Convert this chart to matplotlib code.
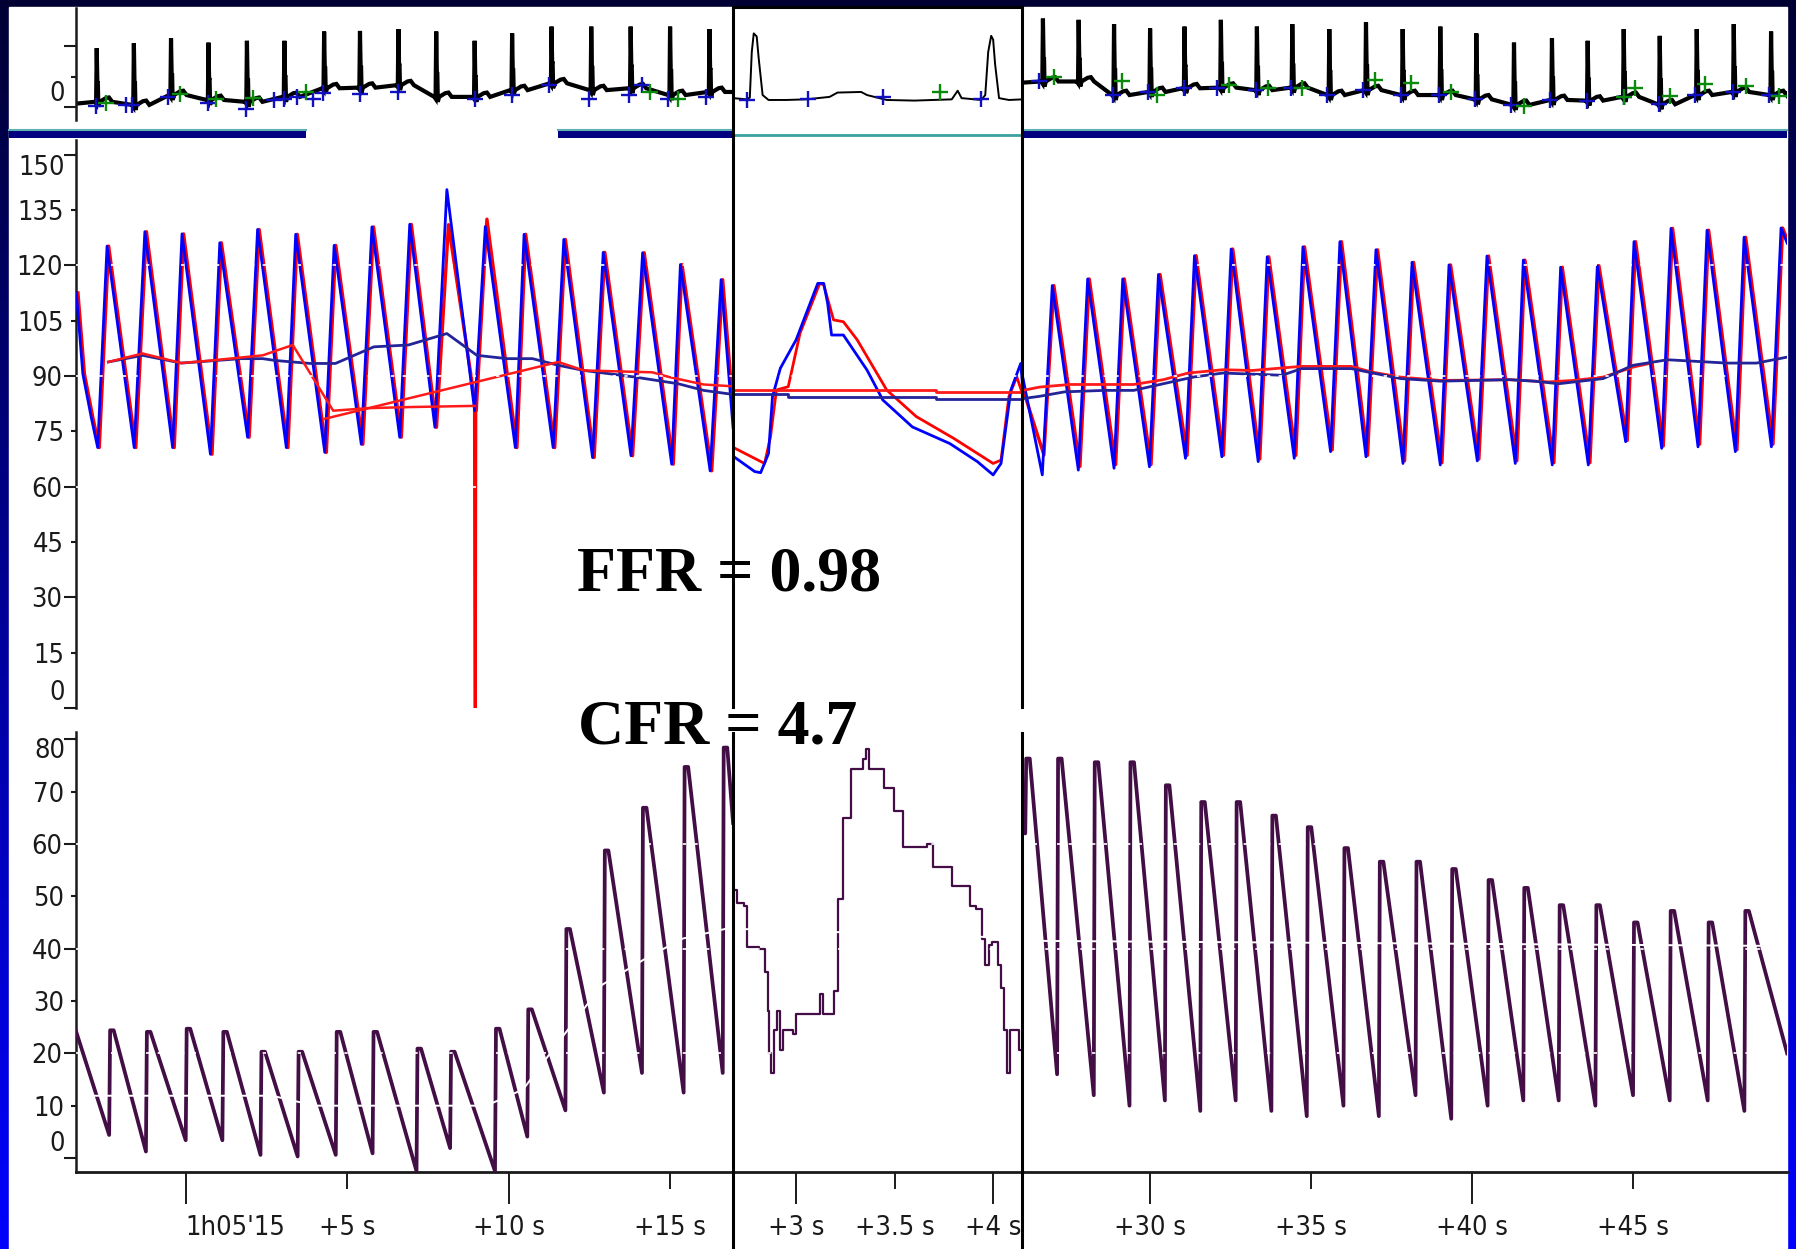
import numpy as np
import matplotlib
matplotlib.use('Agg')
import matplotlib.pyplot as plt
from matplotlib import font_manager
from matplotlib.colors import LinearSegmentedColormap
from matplotlib.lines import Line2D
from matplotlib.patches import Rectangle
from matplotlib.transforms import ScaledTranslation, offset_copy

# ---------------- data (time in s, ECG in a.u., pressure in mmHg, flow in cm/s) ----
# segment 1: baseline, segment 2: zoomed hyperaemia, segment 3: recovery
R1_T = [-2.75, -1.60, -0.45, 0.71, 1.90, 3.06, 4.29, 5.40, 6.59, 7.76, 8.95,
        10.11, 11.33, 12.56, 13.78, 15.00, 16.22]
R1_A = [0.96, 1.04, 1.12, 1.05, 1.08, 1.08, 1.23, 1.24, 1.27, 1.23, 1.08,
        1.20, 1.31, 1.31, 1.31, 1.31, 1.27]
R1_B = [0.09, 0.04, 0.20, 0.12, 0.09, 0.17, 0.31, 0.32, 0.36, 0.17, 0.17,
        0.28, 0.39, 0.28, 0.31, 0.20, 0.25]
R3_T = [26.67, 27.78, 28.88, 30.00, 31.07, 32.20, 33.32, 34.42, 35.57, 36.71, 37.85,
        39.02, 40.14, 41.31, 42.49, 43.60, 44.72, 45.84, 46.99, 48.14, 49.30]
R3_A = [1.44, 1.42, 1.35, 1.28, 1.31, 1.42, 1.31, 1.35, 1.27, 1.38, 1.27,
        1.31, 1.20, 1.05, 1.12, 1.08, 1.27, 1.16, 1.27, 1.35, 1.23]
R3_B = [0.42, 0.42, 0.20, 0.25, 0.31, 0.32, 0.28, 0.32, 0.20, 0.28, 0.20,
        0.20, 0.13, 0.04, 0.12, 0.11, 0.17, 0.05, 0.20, 0.25, 0.20]
# beat shape around each R wave: time offset, fraction of R height, absolute offset
QRS_DT = [-0.06, -0.02, 0.0, 0.02, 0.035, 0.05, 0.09, 0.28, 0.38, 0.48]
QRS_FR = [0, 0, 1, 0.35, 0.35, 0, 0, 0, 0, 0]
QRS_DB = [0, -0.03, 0, 0, 0, -0.08, 0, 0.06, 0.07, 0]

ECG2_T = [2.68, 2.75, 2.765, 2.775, 2.785, 2.80, 2.81, 2.83, 2.86, 2.95, 3.05, 3.17,
          3.21, 3.33, 3.36, 3.46, 3.60, 3.79, 3.82, 3.84, 3.94, 3.96, 3.975, 3.99,
          4.00, 4.01, 4.03, 4.08, 4.15]
ECG2_V = [0.15, 0.13, 0.16, 0.90, 1.20, 1.15, 0.80, 0.20, 0.12, 0.12, 0.13, 0.17,
          0.24, 0.25, 0.20, 0.12, 0.11, 0.13, 0.27, 0.15, 0.12, 0.20, 0.90, 1.16,
          1.10, 0.70, 0.15, 0.12, 0.13]

MB_T = [-2.78, -1.83, -1.66, -0.53, 0.71, 1.87, 3.06, 3.44, 4.24, 5.39, 6.58, 8.95,
        10.11, 11.26, 12.50, 13.72, 14.13, 14.94, 16.12,
        2.75, 3.94,
        26.56, 28.84, 29.94, 31.04, 32.08, 33.30, 34.39, 35.51, 36.63, 37.81, 38.97,
        40.11, 41.23, 42.42, 43.57, 44.72, 45.82, 46.93, 48.12, 49.23]
MB_V = [0.02, 0.04, 0.04, 0.17, 0.07, -0.02, 0.14, 0.17, 0.23, 0.21, 0.25, 0.14,
        0.20, 0.36, 0.14, 0.20, 0.36, 0.13, 0.17,
        0.12, 0.14,
        0.42, 0.20, 0.25, 0.31, 0.32, 0.28, 0.32, 0.20, 0.28, 0.20, 0.20,
        0.13, 0.04, 0.12, 0.11, 0.17, 0.05, 0.20, 0.25, 0.20]
MG_T = [-2.45, -0.18, 0.95, 2.10, 3.73, 14.37, 15.26,
        27.00, 29.14, 30.21, 32.44, 33.65, 34.72, 36.98, 38.11, 39.35, 41.61, 44.72,
        45.07, 46.17, 47.26, 48.53, 49.56]
MG_V = [0.07, 0.21, 0.14, 0.15, 0.25, 0.25, 0.13,
        0.49, 0.42, 0.20, 0.36, 0.32, 0.32, 0.44, 0.39, 0.25, 0.02, 0.17,
        0.31, 0.19, 0.38, 0.35, 0.19]

# pressure, segment 1
P1_FOOT_T = [-2.72, -1.59, -0.40, 0.77, 1.92, 3.12, 4.31, 5.44, 6.63, 7.72, 8.95,
             10.21, 11.38, 12.60, 13.79, 15.05, 16.24]
P1_FOOT_V = [70.6, 70.6, 70.6, 68.8, 73.4, 70.6, 69.3, 71.5, 73.4, 76.1, 80.6,
             70.6, 70.6, 67.9, 68.4, 66.1, 64.3]
P1_PEAK_T = [-2.43, -1.26, -0.11, 1.06, 2.23, 3.41, 4.60, 5.77, 6.94, 8.09, 9.28,
             10.48, 11.71, 12.93, 14.15, 15.32, 16.58]
PA1_PEAK = [125.2, 129.1, 128.5, 126.1, 129.7, 128.4, 125.4, 130.4, 131.1, 140.5, 130.5,
            128.4, 127.0, 123.5, 123.4, 120.2, 116.1]
PD1_PEAK = [125.2, 129.1, 128.5, 126.1, 129.7, 128.4, 125.4, 130.4, 131.1, 131.0, 132.5,
            128.4, 127.0, 123.5, 123.4, 120.2, 116.1]
P1_HEAD_T = [-3.38, -3.18, -2.92]
P1_HEAD_V = [112.5, 90.6, 78.8]
P1_TAIL_T = [16.95]
P1_TAIL_V = [76.0]
PD1_SPIKE_T = [8.94, 8.955, 8.975, 8.99]
PD1_SPIKE_V = [81.9, 0.0, 0.0, 81.0]

MPA1_T = [-2.39, -1.33, -0.13, 1.72, 2.39, 2.78, 3.85, 4.64, 5.83, 6.90, 8.09, 9.02,
          9.95, 10.74, 11.54, 12.33, 13.13, 13.92, 15.25, 16.04, 16.95]
MPA1_V = [93.8, 95.6, 93.5, 94.7, 94.7, 94.2, 93.4, 93.4, 97.9, 98.4, 101.5, 95.6,
          94.7, 94.7, 92.9, 91.5, 90.6, 89.7, 87.9, 86.1, 85.0]
MPD1A_T = [-2.39, -1.33, -0.13, 0.80, 2.39, 3.32, 4.57, 5.70, 7.03, 8.95]
MPD1A_V = [93.8, 96.1, 93.5, 94.2, 95.6, 98.4, 80.6, 81.3, 81.6, 81.9]
MPD1B_T = [4.31, 11.54, 12.33, 14.45, 14.98, 16.04, 16.95]
MPD1B_V = [78.4, 93.8, 91.5, 91.0, 89.7, 87.7, 87.2]

# pressure, segment 2
PA2_T = [2.69, 2.79, 2.82, 2.86, 2.88, 2.92, 3.00, 3.11, 3.14, 3.16, 3.18, 3.24,
         3.36, 3.44, 3.59, 3.78, 3.92, 4.00, 4.04, 4.09, 4.14, 4.15]
PA2_V = [67.9, 64.1, 63.8, 69.0, 84.4, 92.1, 99.8, 115.1, 115.1, 109.7, 101.1, 101.1,
         91.6, 83.5, 76.2, 71.7, 66.8, 63.2, 66.3, 86.2, 93.4, 87.0]
PD2_T = [2.69, 2.84, 2.87, 2.90, 2.96, 3.02, 3.12, 3.14, 3.19, 3.24, 3.31, 3.46,
         3.61, 3.80, 4.00, 4.04, 4.08, 4.12, 4.15]
PD2_V = [70.4, 66.3, 73.5, 86.2, 87.1, 101.6, 115.1, 114.7, 105.2, 104.7, 99.8, 86.2,
         79.0, 73.1, 66.3, 67.2, 84.4, 89.8, 85.0]
MPA2_T = [2.68, 2.96, 2.96, 3.71, 3.71, 4.15]
MPA2_V = [85.1, 85.1, 84.4, 84.4, 83.8, 83.8]
MPD2_T = [2.68, 3.71, 3.71, 4.15]
MPD2_V = [86.2, 86.2, 85.7, 85.7]

# pressure, segment 3
P3_FOOT_T = [26.65, 27.77, 28.88, 29.98, 31.10, 32.23, 33.36, 34.48, 35.61, 36.71, 37.86,
             39.02, 40.17, 41.35, 42.50, 43.62, 44.78, 45.90, 47.03, 48.19, 49.31]
PA3_FOOT = [63.2, 64.5, 65.0, 65.4, 67.7, 68.1, 66.8, 67.7, 69.5, 68.1, 66.3,
            65.9, 67.0, 66.3, 65.9, 65.9, 72.2, 70.4, 70.8, 69.5, 70.8]
PD3_FOOT = [68.6, 65.5, 66.0, 66.0, 68.5, 68.5, 67.5, 68.5, 70.0, 68.5, 67.0,
            66.5, 67.5, 67.0, 66.5, 66.5, 72.5, 71.0, 71.5, 70.0, 71.5]
P3_PEAK_T = [26.96, 28.06, 29.15, 30.26, 31.38, 32.52, 33.64, 34.75, 35.90, 37.02, 38.14,
             39.29, 40.47, 41.60, 42.76, 43.90, 45.04, 46.19, 47.31, 48.46, 49.61]
P3_PEAK_V = [114.5, 116.3, 116.3, 117.5, 122.6, 124.4, 122.3, 125.0, 126.4, 124.2, 120.8,
             120.1, 122.5, 121.4, 119.5, 119.9, 126.4, 130.0, 129.5, 127.6, 130.1]
MPA3_T = [25.81, 26.57, 27.34, 28.57, 29.49, 30.41, 31.34, 32.26, 33.18, 34.10, 34.71,
          36.25, 36.87, 37.79, 39.02, 41.17, 41.93, 42.70, 44.08, 45.01, 46.08, 46.70,
          47.92, 48.85, 49.79]
MPA3_V = [83.6, 84.5, 85.7, 86.1, 86.1, 87.9, 89.7, 90.8, 90.5, 90.2, 92.0,
          92.0, 90.9, 89.3, 88.6, 89.0, 88.6, 87.9, 89.3, 92.9, 94.4, 94.1,
          93.5, 93.5, 95.1]
MPD3_T = [25.81, 26.57, 27.50, 29.49, 30.41, 31.18, 32.26, 33.18, 34.41, 34.71, 36.25,
          36.87, 37.79, 39.02, 41.17, 42.39, 43.16, 44.08, 45.01, 45.47]
MPD3_V = [85.7, 87.0, 87.7, 87.7, 89.0, 90.8, 91.7, 91.5, 92.4, 92.6, 92.6,
          91.1, 89.7, 88.8, 89.0, 88.4, 88.8, 89.7, 92.4, 93.3]

# flow velocity, segment 1 (rise time, value before rise, peak)
F1_RISE = [-2.345, -1.207, 0.025, 1.16, 2.34, 3.49, 4.67, 5.81, 7.17, 8.21, 9.60,
           10.60, 11.78, 12.97, 14.15, 15.44, 16.65]
F1_LOW = [4.4, 1.25, 3.4, 3.4, 0.6, 0.3, 0.6, 0.9, -2.5, 1.9, -2.5,
          4.1, 9.1, 12.5, 16.25, 12.5, 16.25]
F1_PEAK = [24.4, 24.1, 24.7, 24.1, 20.3, 20.3, 24.1, 24.1, 20.9, 20.3, 24.7,
           28.4, 43.75, 58.75, 66.9, 74.7, 78.4]
# flow velocity, segment 2
F2_T = [2.687, 2.702, 2.734, 2.749, 2.811, 2.842, 2.858, 2.864, 2.873, 2.889, 2.904,
        2.920, 2.935, 2.982, 2.998, 3.106, 3.122, 3.138, 3.184, 3.194, 3.215, 3.237,
        3.278, 3.324, 3.340, 3.355, 3.371, 3.417, 3.448, 3.495, 3.542, 3.650, 3.666,
        3.697, 3.775, 3.790, 3.868, 3.884, 3.915, 3.946, 3.961, 3.977, 3.992, 4.023,
        4.039, 4.054, 4.070, 4.086, 4.117, 4.132, 4.148]
F2_V = [51.25, 48.75, 48.1, 40.3, 40.0, 35.6, 28.1, 20.0, 16.25, 24.4, 28.1,
        20.6, 24.4, 23.75, 27.5, 27.5, 31.25, 27.5, 27.5, 31.9, 49.4, 65.0,
        74.4, 74.4, 76.25, 78.1, 74.4, 74.4, 70.6, 66.25, 59.4, 59.4, 60.0,
        55.6, 55.6, 51.9, 51.9, 48.1, 47.5, 41.9, 36.9, 40.6, 41.25, 36.9,
        32.5, 24.4, 16.25, 24.4, 24.4, 20.6, 20.6]
# flow velocity, segment 3
F3_RISE = [26.14, 27.13, 28.27, 29.38, 30.48, 31.58, 32.68, 33.79, 34.89, 36.03, 37.13,
           38.27, 39.38, 40.51, 41.62, 42.72, 43.86, 45.03, 46.17, 47.35, 48.49]
F3_LOW = [62.0, 16.0, 12.0, 10.0, 11.0, 9.0, 11.0, 9.0, 8.0, 10.0, 8.0,
          12.0, 7.5, 10.0, 11.0, 11.0, 10.0, 12.0, 11.0, 11.0, 9.0]
F3_PEAK = [76.3, 76.3, 75.6, 75.6, 71.2, 68.0, 68.0, 65.4, 63.2, 59.2, 56.6,
           56.6, 55.2, 53.1, 51.6, 48.3, 48.3, 45.0, 47.2, 45.0, 47.2]
# mean velocity (white) lines
WF1_T = [-3.0, 2.68, 4.0, 9.31, 10.45, 11.59, 12.9, 14.24, 15.38, 16.95]
WF1_V = [11.9, 11.9, 10.0, 10.0, 13.1, 22.5, 33.1, 38.1, 41.9, 44.1]
WF2_T = [2.68, 4.15]
WF2_V = [43.8, 42.0]
WF3_T = [26.0, 49.8]
WF3_V = [41.5, 40.5]

X_TICKS = [[0, 10], [3, 4], [30, 40]]
X_MINOR = [[5, 15], [3.5], [35, 45]]
X_LAB = [["1h05'15", '+10 s'], ['+3 s', '+4 s'], ['+30 s', '+40 s']]
X_MLAB = [['+5 s', '+15 s'], ['+3.5 s'], ['+35 s', '+45 s']]

# ---------------- layout (reference grid 1568 x 1090) ----------------
SW, SH = 1568.0, 1090.0
COLS = [(66, 640, -3.404, 16.95), (640, 892, 2.680, 4.145), (892, 1560, 26.01, 49.79)]
ROWS = [(7.3, 105.0, -0.21, 1.606), (122.0, 618.0, 0.0, 154.0), (638.7, 1023.0, -2.71, 81.4)]

# narrow sans for the axis labels, whatever is installed
_fonts = font_manager.fontManager.ttflist
if any(f.name == 'Liberation Sans Narrow' for f in _fonts):
    TICKF, TSTRETCH, TSIZE = 'Liberation Sans Narrow', 'normal', 20
elif any(f.name == 'DejaVu Sans' and 'Condensed' in f.fname for f in _fonts):
    TICKF, TSTRETCH, TSIZE = 'DejaVu Sans', 'condensed', 19.5
else:
    TICKF, TSTRETCH, TSIZE = 'Liberation Sans', 'normal', 19
TK = dict(family=TICKF, stretch=TSTRETCH, fontsize=TSIZE)

INK = '#1a1a1a'
C_PA, C_PD = '#0000ff', '#ff0000'
C_MPA, C_MPD = '#23239a', '#ff1a1a'
C_FLOW = '#430d45'

fig = plt.figure(figsize=(17.96, 12.49), dpi=100)

bg = fig.add_axes([0, 0, 1, 1], zorder=-10)
cmap = LinearSegmentedColormap.from_list('border', ['#000033', '#00009a', '#0000ff'])
bg.imshow(np.linspace(0, 1, 256).reshape(-1, 1), cmap=cmap, aspect='auto',
          extent=[0, 1, 0, 1], origin='upper')
bg.add_patch(Rectangle((8 / SW, 0), (1560 - 8) / SW, 1 - 6 / SH, color='white'))
bg.set_xlim(0, 1)
bg.set_ylim(0, 1)
bg.axis('off')

axs = []
for r, (y0, y1, v0, v1) in enumerate(ROWS):
    row = []
    for c, (x0, x1, t0, t1) in enumerate(COLS):
        ax = fig.add_axes([x0 / SW, 1 - y1 / SH, (x1 - x0) / SW, (y1 - y0) / SH])
        ax.set_facecolor('none')
        ax.set_xlim(t0, t1)
        ax.set_ylim(v0, v1)
        for s in ax.spines.values():
            s.set_visible(False)
        ax.set_xticks([])
        ax.set_yticks([])
        row.append(ax)
    axs.append(row)


def ecg_path(rt, ra, rb, start, end):
    t, v = [start[0]], [start[1]]
    for r, a, b in zip(rt, ra, rb):
        for dt, fr, db in zip(QRS_DT, QRS_FR, QRS_DB):
            t.append(r + dt)
            v.append(b + fr * (a - b) + db)
    t.append(end[0])
    v.append(end[1])
    return t, v


def pulse_path(ft, fv, pt, pv, head_t, head_v, tail_t, tail_v):
    t, v = list(head_t), list(head_v)
    for a, b, c, d in zip(ft, fv, pt, pv):
        t += [a, c]
        v += [b, d]
    return t + list(tail_t), v + list(tail_v)


def flow_path(rise, low, peak, head, tail):
    t, v = [head[0]], [head[1]]
    for a, b, c in zip(rise, low, peak):
        t += [a - 0.02, a + 0.01, a + 0.12]
        v += [b, c, c]
    t.append(tail[0])
    v.append(tail[1])
    return t, v


# ---- ECG ----
e1 = ecg_path(R1_T, R1_A, R1_B, (-3.40, 0.06), (16.95, 0.25))
e3 = ecg_path(R3_T, R3_A, R3_B, (26.0, 0.40), (49.8, 0.22))
axs[0][0].plot(*e1, color='black', lw=3.0, solid_joinstyle='miter')
axs[0][1].plot(ECG2_T, ECG2_V, color='black', lw=1.4)
axs[0][2].plot(*e3, color='black', lw=3.0, solid_joinstyle='miter')
for ax in axs[0]:
    ax.plot(MB_T, MB_V, ls='none', marker='+', ms=11, mew=1.7, color='#1010c0', zorder=4)
    ax.plot(MG_T, MG_V, ls='none', marker='+', ms=11, mew=1.7, color='#0a8a0a', zorder=4)

# ---- pressure ----
shift = ScaledTranslation(1.6 / 100, 0, fig.dpi_scale_trans)
pa1 = pulse_path(P1_FOOT_T, P1_FOOT_V, P1_PEAK_T, PA1_PEAK, P1_HEAD_T, P1_HEAD_V, P1_TAIL_T, P1_TAIL_V)
pd1 = pulse_path(P1_FOOT_T, P1_FOOT_V, P1_PEAK_T, PD1_PEAK, P1_HEAD_T, P1_HEAD_V, P1_TAIL_T, P1_TAIL_V)
pa3 = pulse_path(P3_FOOT_T, PA3_FOOT, P3_PEAK_T, P3_PEAK_V, [25.96], [93.3], [49.8], [126.0])
pd3 = pulse_path(P3_FOOT_T, PD3_FOOT, P3_PEAK_T, P3_PEAK_V, [25.88], [89.7], [49.8], [126.0])

ax = axs[1][0]
ax.plot(*pd1, color=C_PD, lw=2.4, transform=ax.transData + shift, zorder=2)
ax.plot(PD1_SPIKE_T, PD1_SPIKE_V, color=C_PD, lw=2.0, zorder=2)
ax.plot(*pa1, color=C_PA, lw=2.0, zorder=3)
ax.plot(MPA1_T, MPA1_V, color=C_MPA, lw=2.0, zorder=4)
ax.plot(MPD1A_T, MPD1A_V, color=C_MPD, lw=1.8, zorder=4)
ax.plot(MPD1B_T, MPD1B_V, color=C_MPD, lw=1.8, zorder=4)

ax = axs[1][1]
ax.plot(PD2_T, PD2_V, color=C_PD, lw=2.0, zorder=2)
ax.plot(PA2_T, PA2_V, color=C_PA, lw=2.0, zorder=3)
ax.plot(MPD2_T, MPD2_V, color=C_MPD, lw=2.0, zorder=4)
ax.plot(MPA2_T, MPA2_V, color=C_MPA, lw=2.0, zorder=4)

ax = axs[1][2]
ax.plot(*pd3, color=C_PD, lw=2.4, transform=ax.transData + shift, zorder=2)
ax.plot(*pa3, color=C_PA, lw=2.0, zorder=3)
ax.plot(MPD3_T, MPD3_V, color=C_MPD, lw=2.0, zorder=4)
ax.plot(MPA3_T, MPA3_V, color=C_MPA, lw=2.0, zorder=4)

for ax in axs[1]:
    for g in (60, 90, 120):
        ax.axhline(g, color='white', lw=1.2, ls=(0, (2, 5)), zorder=5)

# ---- flow velocity ----
f1 = flow_path(F1_RISE, F1_LOW, F1_PEAK, (-3.40, 24.4), (16.95, 64.0))
f3 = flow_path(F3_RISE, F3_LOW, F3_PEAK, (26.0, 70.0), (49.8, 20.0))
axs[2][0].plot(*f1, color=C_FLOW, lw=2.7, zorder=3)
axs[2][1].plot(F2_T, F2_V, color=C_FLOW, lw=1.6, drawstyle='steps-post', zorder=3)
axs[2][2].plot(*f3, color=C_FLOW, lw=2.7, zorder=3)
for ax, (wt, wv) in zip(axs[2], [(WF1_T, WF1_V), (WF2_T, WF2_V), (WF3_T, WF3_V)]):
    ax.plot(wt, wv, color='white', lw=1.4, zorder=5)
    for g in (20, 40, 60):
        ax.axhline(g, color='white', lw=1.2, ls=(0, (2, 5)), zorder=5)

# ---- axes decoration ----
for r in range(3):
    ax = axs[r][0]
    ax.spines['left'].set_visible(True)
    ax.spines['left'].set_linewidth(1.8)
    ax.spines['left'].set_color(INK)


def ylabels(ax, major, minor, mlabels, nlabels, ends):
    ax.set_yticks(major)
    ax.set_yticklabels(mlabels, color=INK, **TK)
    ax.set_yticks(minor, minor=True)
    ax.set_yticklabels(nlabels, minor=True, color=INK, **TK)
    ax.tick_params(axis='y', which='major', length=9, width=1.5, pad=0.3, color=INK)
    ax.tick_params(axis='y', which='minor', length=3.6, width=1.5, pad=4.8, color=INK)
    for val, lab, dy in ends:
        tr = offset_copy(ax.get_yaxis_transform(), fig=fig, x=-7.6, y=dy, units='points')
        ax.text(0, val, lab, transform=tr, ha='right', va='center', color=INK, **TK)


ylabels(axs[0][0], [0, 1.0], [0.5], ['', ''], [''], [(0, '0', 9.6)])
ylabels(axs[1][0], [0, 30, 60, 90, 120, 150], [15, 45, 75, 105, 135],
        ['', '30', '60', '90', '120', ''], ['15', '45', '75', '105', '135'],
        [(0, '0', 10.8), (150, '150', -9.9)])
ylabels(axs[2][0], [0, 20, 40, 60, 80], [10, 30, 50, 70],
        ['', '20', '40', '60', ''], ['10', '30', '50', '70'],
        [(0, '0', 10.4), (80, '80', -8.3)])

for c in range(3):
    ax = axs[2][c]
    ax.spines['bottom'].set_visible(True)
    ax.spines['bottom'].set_linewidth(2.0)
    ax.spines['bottom'].set_color(INK)
    ax.set_xticks(X_TICKS[c])
    ax.set_xticklabels(X_LAB[c], color=INK, **TK)
    ax.set_xticks(X_MINOR[c], minor=True)
    ax.set_xticklabels(X_MLAB[c], minor=True, color=INK, **TK)
    ax.tick_params(axis='x', which='major', length=22.8, width=1.4, pad=8.0, color=INK)
    ax.tick_params(axis='x', which='minor', length=12.5, width=1.4, pad=18.3, color=INK)
axs[2][0].get_xticklabels()[0].set_horizontalalignment('left')

# ---- figure overlays: separators, status bars, annotations ----
def fline(x0, y0, x1, y1, **kw):
    fig.add_artist(Line2D([x0 / SW, x1 / SW], [1 - y0 / SH, 1 - y1 / SH], **kw))


for xs in (640, 892):
    fline(xs, 6, xs, 617, color='black', lw=2.2, zorder=20)
    fline(xs, 640, xs, 1090, color='black', lw=2.2, zorder=20)
fline(640, 6.5, 892, 6.5, color='black', lw=2.2, zorder=20)

for xa, xb in ((8, 267), (487, 640), (892, 1560)):
    fig.add_artist(Rectangle((xa / SW, 1 - 120.5 / SH), (xb - xa) / SW, 7.0 / SH,
                             facecolor='#000080', edgecolor='none', zorder=15))
    fline(xa, 113.5, xb, 113.5, color='#5fb0b0', lw=1.5, zorder=16)
fline(640, 117.5, 892, 117.5, color='#3aa0a0', lw=2.0, zorder=16)

fig.text(504 / SW, 1 - 515 / SH, 'FFR = 0.98', family=['Liberation Serif', 'DejaVu Serif'],
         fontweight='bold', fontsize=46, color='black', va='baseline', zorder=30)
fig.text(505 / SW, 1 - 649 / SH, 'CFR = 4.7', family=['Liberation Serif', 'DejaVu Serif'],
         fontweight='bold', fontsize=46, color='black', va='baseline', zorder=30)

fig.savefig('out.png', dpi=100)
